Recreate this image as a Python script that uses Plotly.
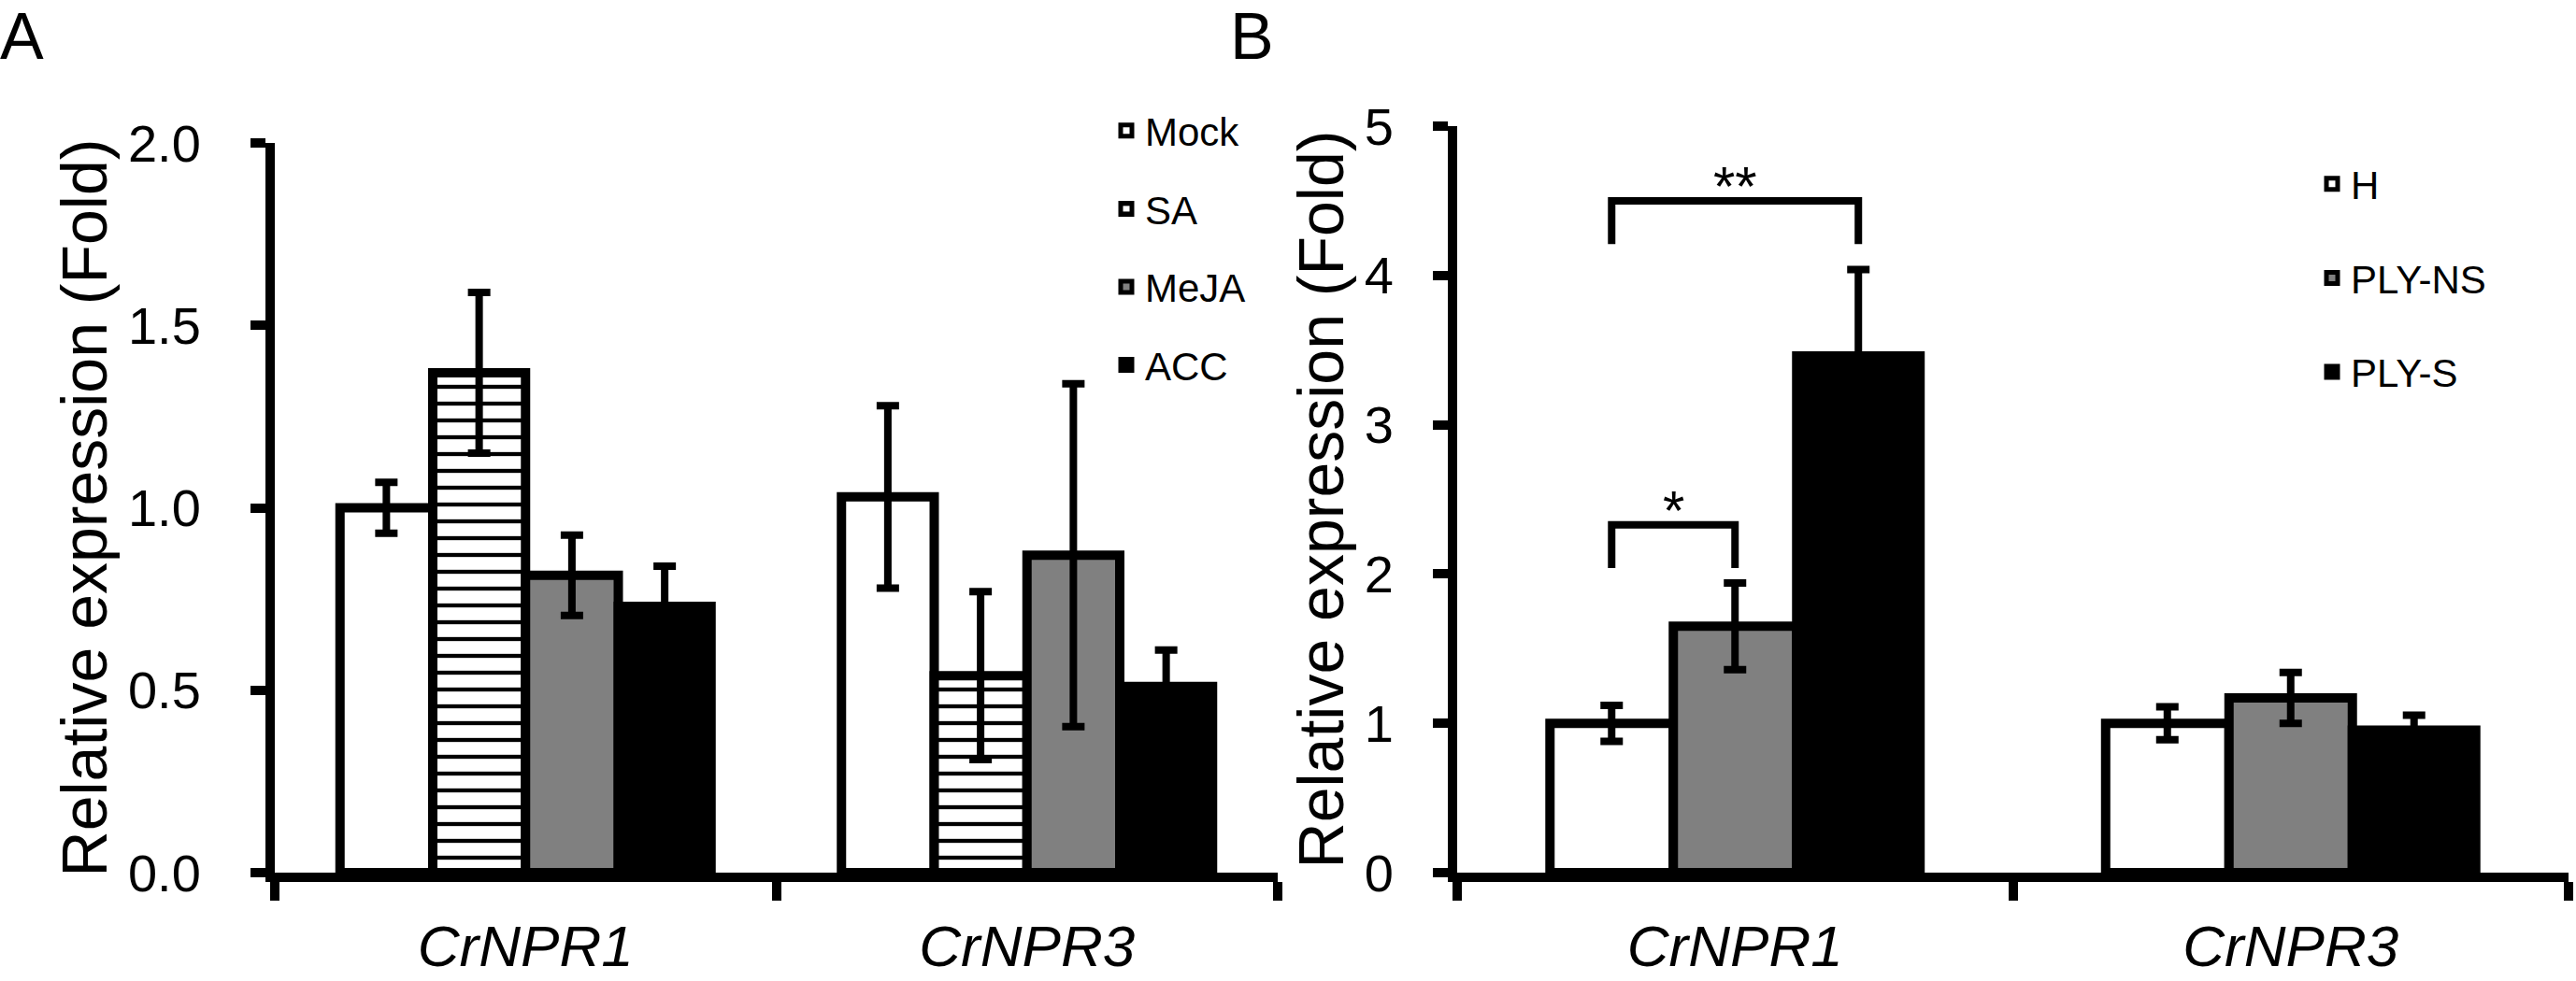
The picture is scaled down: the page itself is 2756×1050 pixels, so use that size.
import plotly.graph_objects as go

# ---------------- data ----------------
genes = ["CrNPR1", "CrNPR3"]

# Panel A: hormone treatments
a_names = ["Mock", "SA", "MeJA", "ACC"]
mock_mean = [1.00, 1.03]
mock_err = [0.07, 0.25]
sa_mean = [1.37, 0.54]
sa_err = [0.22, 0.23]
meja_mean = [0.815, 0.87]
meja_err = [0.11, 0.47]
acc_mean = [0.73, 0.51]
acc_err = [0.11, 0.10]

# Panel B: H / PLY-NS / PLY-S
b_names = ["H", "PLY-NS", "PLY-S"]
h_mean = [1.00, 1.00]
h_err = [0.12, 0.11]
ns_mean = [1.65, 1.17]
ns_err = [0.29, 0.17]
s_mean = [3.46, 0.955]
s_err = [0.58, 0.10]

# significance brackets (panel B, CrNPR1)
sig_pairs = [("H", "PLY-NS"), ("H", "PLY-S")]
sig_top = [2.33, 4.50]
sig_drop = 0.29
sig_labels = ["*", "**"]

y_a_ticks = [0.0, 0.5, 1.0, 1.5, 2.0]
y_b_ticks = [0, 1, 2, 3, 4, 5]

# ---------------- style ----------------
FONT = "Liberation Sans, Arial, Helvetica, sans-serif"
GRAY = "#808080"
LW = 10

fig = go.Figure()

xpos = list(range(len(genes)))

def add_bars(names, means, errs, fills, patterns, width, xaxis, yaxis, legend):
    n = len(names)
    centers = {}
    for i, (nm, m, e, fc, pat) in enumerate(zip(names, means, errs, fills, patterns)):
        off = -n * width / 2 + i * width
        centers[nm] = [x + off + width / 2 for x in xpos]
        marker = dict(color=fc, line=dict(color="black", width=LW))
        if pat:
            marker["pattern"] = dict(shape="-", fgcolor="black", bgcolor="white",
                                     size=18, solidity=0.24, fillmode="replace")
        fig.add_trace(go.Bar(
            x=xpos, y=m, name=nm, width=width, offset=off,
            marker=marker,
            error_y=dict(type="data", array=e, color="black", thickness=8, width=12),
            xaxis=xaxis, yaxis=yaxis, legend=legend, legendgroup=legend + nm,
        ))
    return centers

add_bars(a_names, [mock_mean, sa_mean, meja_mean, acc_mean],
         [mock_err, sa_err, meja_err, acc_err],
         ["white", "white", GRAY, "black"], [False, True, False, False],
         0.185, "x", "y", "legend")

cb = add_bars(b_names, [h_mean, ns_mean, s_mean], [h_err, ns_err, s_err],
              ["white", GRAY, "black"], [False, False, False],
              0.222, "x2", "y2", "legend2")

# brackets + stars
for (a, b), top, lab in zip(sig_pairs, sig_top, sig_labels):
    xa_ = cb[a][0]
    xb_ = cb[b][0]
    fig.add_trace(go.Scatter(
        x=[xa_, xa_, xb_, xb_], y=[top - sig_drop, top, top, top - sig_drop],
        mode="lines", line=dict(color="black", width=8),
        showlegend=False, hoverinfo="skip", xaxis="x2", yaxis="y2",
    ))
    fig.add_annotation(x=(xa_ + xb_) / 2, y=top, xref="x2", yref="y2",
                       text=lab, showarrow=False, yanchor="bottom", yshift=-20,
                       font=dict(family=FONT, size=60, color="black"))

# panel letters
fig.add_annotation(x=0.0, y=1.0, xref="paper", yref="paper", text="A",
                   showarrow=False, xanchor="left", yanchor="top", borderpad=0,
                   borderwidth=0, font=dict(family=FONT, size=70, color="black"))
fig.add_annotation(x=1316 / 2756, y=1.0, xref="paper", yref="paper", text="B",
                   showarrow=False, xanchor="left", yanchor="top", borderpad=0,
                   borderwidth=0, font=dict(family=FONT, size=70, color="black"))

common_x = dict(
    type="linear", range=[-0.5, 1.5], showline=True, linecolor="black", linewidth=LW,
    tickmode="array", tickvals=xpos, ticktext=["<i>%s</i>" % g for g in genes],
    ticks="", showgrid=False, zeroline=False, ticklabelstandoff=16, automargin=False,
    tickfont=dict(family=FONT, size=62, color="black"),
    minor=dict(tickmode="linear", tick0=-0.5, dtick=1, ticks="outside", ticklen=20,
               tickwidth=LW, tickcolor="black", showgrid=False),
    fixedrange=True,
)
common_y = dict(
    showline=True, linecolor="black", linewidth=LW, ticks="outside", ticklen=16,
    tickwidth=LW, tickcolor="black", showgrid=False, zeroline=False, automargin=False,
    tickfont=dict(family=FONT, size=56, color="black"),
    title=dict(text="Relative expression (Fold)", font=dict(family=FONT, size=68, color="black"),
               standoff=4),
)

fig.update_layout(
    width=2756, height=1050,
    margin=dict(l=0, r=0, t=0, b=0, autoexpand=False),
    paper_bgcolor="white", plot_bgcolor="white",
    barmode="group",
    xaxis=dict(domain=[294 / 2756, 1367 / 2756], anchor="y", **common_x),
    xaxis2=dict(domain=[1559 / 2756, 2748 / 2756], anchor="y2", **common_x),
    yaxis=dict(domain=[1 - 934 / 1050, 1 - 153 / 1050], anchor="x", range=[0, 2],
               tickvals=y_a_ticks, tickformat=".1f", ticklabelstandoff=42, **common_y),
    yaxis2=dict(domain=[1 - 934 / 1050, 1 - 135 / 1050], anchor="x2", range=[0, 5],
                tickvals=y_b_ticks, ticklabelstandoff=31, **common_y),
    legend=dict(x=1185 / 2756, y=1 - 106 / 1050, xanchor="left", yanchor="top",
                font=dict(family=FONT, size=42, color="black"), bgcolor="rgba(0,0,0,0)",
                traceorder="grouped", tracegroupgap=26),
    legend2=dict(x=2475 / 2756, y=1 - 163 / 1050, xanchor="left", yanchor="top",
                 font=dict(family=FONT, size=42, color="black"), bgcolor="rgba(0,0,0,0)",
                 traceorder="grouped", tracegroupgap=43),
    showlegend=True,
)

fig.write_html("out.html", config={"displayModeBar": False},
               post_script="document.body.style.margin='0';")
